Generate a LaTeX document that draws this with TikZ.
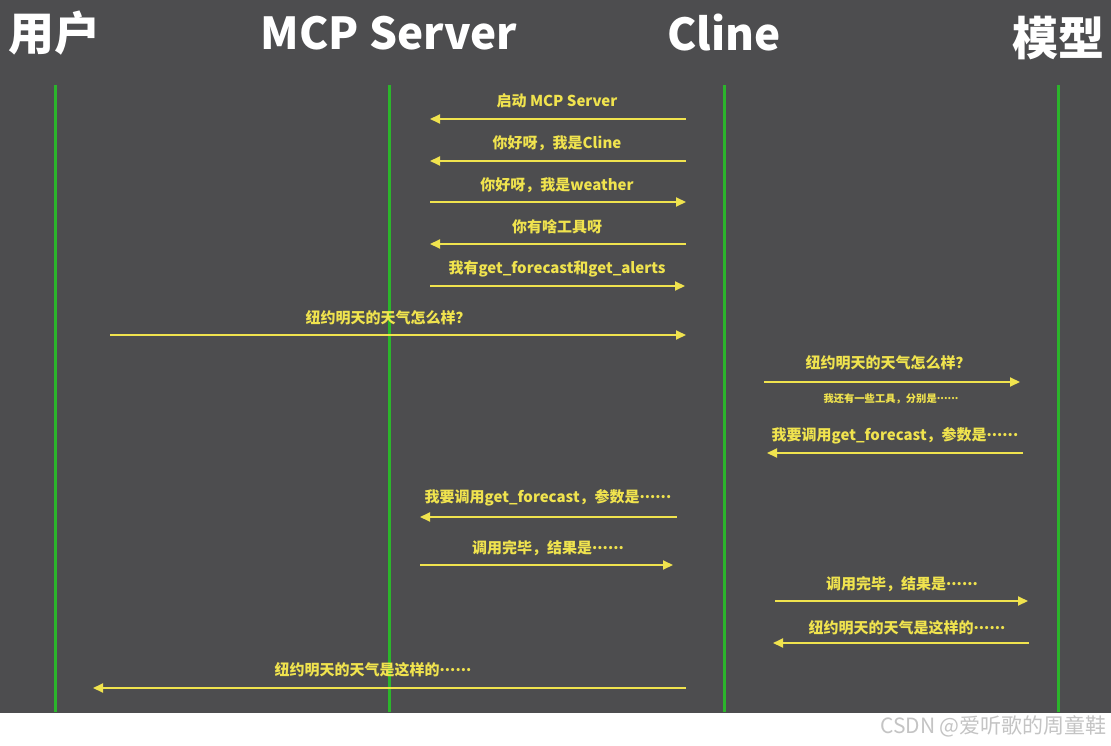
\documentclass[tikz,border=0pt]{standalone}
\usepackage{fontspec}
\newfontfamily\cjk{Noto Sans CJK SC}
\usetikzlibrary{arrows.meta}
\definecolor{bg}{HTML}{4D4D4F}
\definecolor{msg}{HTML}{F0E34E}
\definecolor{life}{HTML}{2BB52B}
\definecolor{wm}{HTML}{C4C4C4}
\newcommand{\dotsix}{\raisebox{0.28em}{.}\raisebox{0.28em}{.}\raisebox{0.28em}{.}\raisebox{0.28em}{.}\raisebox{0.28em}{.}\raisebox{0.28em}{.}}
\begin{document}
\begin{tikzpicture}[x=1pt,y=-1pt,
  header/.style={text=white,font=\cjk\bfseries\fontsize{44}{50}\selectfont,inner sep=0pt},
  lifeline/.style={draw=life,line width=3pt},
  msgline/.style={draw=msg,line width=2pt,-{Triangle[length=10pt,width=9pt]}},
  lbl/.style={text=msg,font=\cjk\bfseries\fontsize{15}{18}\selectfont,inner sep=0pt},
  small/.style={text=msg,font=\cjk\bfseries\fontsize{10.3}{12}\selectfont,inner sep=0pt},
  ]
\useasboundingbox (0,0) rectangle (1111,746);
\fill[bg] (0,0) rectangle (1111,713);
\fill[white] (0,713) rectangle (1111,746);
% headers
\node[header,anchor=west] (hU) at (8,33) {\fontsize{46}{50}\selectfont 用户};
\node[header] (hS) at (389,33) {MCP Server};
\node[header] (hC) at (724,33) {Cline};
\node[header,anchor=east] (hM) at (1105,38) {\fontsize{46}{50}\selectfont 模型};
% lifelines
\coordinate (uT) at (55,85); \coordinate (uB) at (55,712);
\coordinate (sT) at (389,85); \coordinate (sB) at (389,712);
\coordinate (cT) at (724,85); \coordinate (cB) at (724,712);
\coordinate (mT) at (1058,85); \coordinate (mB) at (1058,712);
\draw[lifeline] (uT) -- (uB);
\draw[lifeline] (sT) -- (sB);
\draw[lifeline] (cT) -- (cB);
\draw[lifeline] (mT) -- (mB);
% messages
\coordinate (a1s) at (686,119); \coordinate (a1e) at (430,119);
\draw[msgline] (a1s) -- (a1e);
\node[lbl] (l1) at (557,101) {启动 MCP Server};
\coordinate (a2s) at (686,161); \coordinate (a2e) at (430,161);
\draw[msgline] (a2s) -- (a2e);
\node[lbl] (l2) at (557,143) {你好呀，我是Cline};
\coordinate (a3s) at (430,202); \coordinate (a3e) at (686,202);
\draw[msgline] (a3s) -- (a3e);
\node[lbl] (l3) at (557,185) {你好呀，我是weather};
\coordinate (a4s) at (686,244); \coordinate (a4e) at (430,244);
\draw[msgline] (a4s) -- (a4e);
\node[lbl] (l4) at (557,227) {你有啥工具呀};
\coordinate (a5s) at (430,286); \coordinate (a5e) at (685,286);
\draw[msgline] (a5s) -- (a5e);
\node[lbl] (l5) at (557,269) {我有get\_forecast和get\_alerts};
\coordinate (a6s) at (110,335); \coordinate (a6e) at (686,335);
\draw[msgline] (a6s) -- (a6e);
\node[lbl] (l6) at (388,318) {纽约明天的天气怎么样？};
\coordinate (a7s) at (764,382); \coordinate (a7e) at (1020,382);
\draw[msgline] (a7s) -- (a7e);
\node[lbl] (l7) at (888,363) {纽约明天的天气怎么样？};
\node[small] (l7b) at (891,399) {我还有一些工具，分别是\dotsix};
\coordinate (a8s) at (1023,453); \coordinate (a8e) at (767,453);
\draw[msgline] (a8s) -- (a8e);
\node[lbl] (l8) at (895,436) {我要调用get\_forecast，参数是\dotsix};
\coordinate (a9s) at (677,517); \coordinate (a9e) at (420,517);
\draw[msgline] (a9s) -- (a9e);
\node[lbl] (l9) at (548,498) {我要调用get\_forecast，参数是\dotsix};
\coordinate (a10s) at (420,565); \coordinate (a10e) at (673,565);
\draw[msgline] (a10s) -- (a10e);
\node[lbl] (l10) at (548,548) {调用完毕，结果是\dotsix};
\coordinate (a11s) at (775,601); \coordinate (a11e) at (1028,601);
\draw[msgline] (a11s) -- (a11e);
\node[lbl] (l11) at (902,584) {调用完毕，结果是\dotsix};
\coordinate (a12s) at (1029,643); \coordinate (a12e) at (773,643);
\draw[msgline] (a12s) -- (a12e);
\node[lbl] (l12) at (907,628) {纽约明天的天气是这样的\dotsix};
\coordinate (a13s) at (686,688); \coordinate (a13e) at (93,688);
\draw[msgline] (a13s) -- (a13e);
\node[lbl] (l13) at (373,670) {纽约明天的天气是这样的\dotsix};
% watermark
\node[text=wm,font=\cjk\fontsize{21}{24}\selectfont,inner sep=0pt,anchor=east] (wmk) at (1107,726) {CSDN @爱听歌的周童鞋};
\end{tikzpicture}
\end{document}
